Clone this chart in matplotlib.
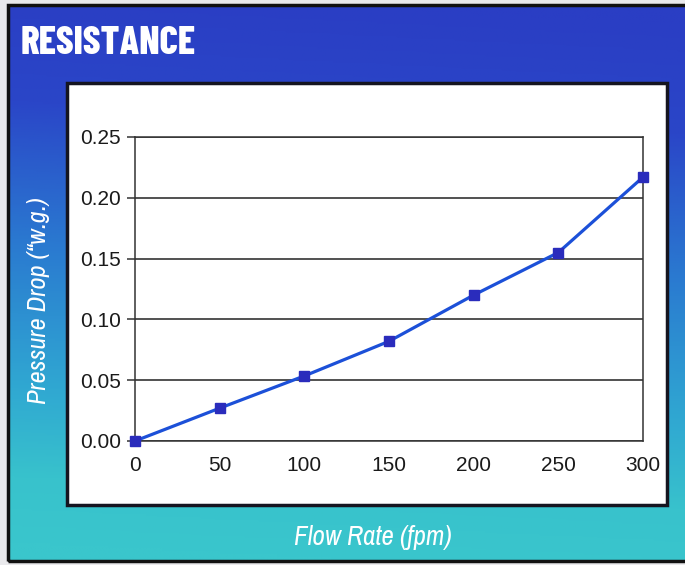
import numpy as np
import matplotlib
matplotlib.use("Agg")
import matplotlib.pyplot as plt
from matplotlib.colors import LinearSegmentedColormap
from matplotlib.patches import Rectangle

# data
flow_rate = [0, 50, 100, 150, 200, 250, 300]
pressure_drop = [0.0, 0.027, 0.0535, 0.082, 0.120, 0.155, 0.217]
y_ticks = [0.00, 0.05, 0.10, 0.15, 0.20, 0.25]
x_ticks = [0, 50, 100, 150, 200, 250, 300]

plt.rcParams["font.family"] = ["Liberation Sans", "DejaVu Sans"]

W, H = 685, 565
fig = plt.figure(figsize=(W / 100, H / 100), dpi=100)
fig.patch.set_facecolor("#e9e9ec")


def fx(px):
    return px / W


def fy(py):
    return 1 - py / H


# gradient background (blue at top, teal at bottom)
bg = fig.add_axes([fx(8), fy(561), fx(685 - 8), (561 - 5) / H])
bg.set_axis_off()
gx, gy = np.meshgrid(np.linspace(0, 1, 200), np.linspace(0, 1, 200))
t = np.clip(gy + 0.06 * (1 - gx) - 0.03, 0, 1)
cmap = LinearSegmentedColormap.from_list(
    "bg", [(0.0, "#2a3ec4"), (0.2, "#2a46c8"), (0.45, "#2a78d0"),
           (0.72, "#30a8d2"), (0.88, "#38c2cc"), (1.0, "#3ac6cc")])
bg.imshow(t, cmap=cmap, aspect="auto", extent=[0, 1, 0, 1], origin="upper")
bg.set_xlim(0, 1)
bg.set_ylim(0, 1)

# outer black frame
fig.patches.append(Rectangle((fx(8), fy(561)), fx(690 - 8), (561 - 5) / H,
                             transform=fig.transFigure, fill=False,
                             edgecolor="#111111", linewidth=2.5, zorder=5))

# white chart panel
fig.patches.append(Rectangle((fx(67), fy(505)), fx(667 - 67), (505 - 83) / H,
                             transform=fig.transFigure, facecolor="white",
                             edgecolor="#151520", linewidth=2.5, zorder=1))

fig.text(fx(21), fy(44), "RESISTANCE", color="white", fontsize=28,
         fontweight="heavy", va="center", ha="left",
         family=["Barlow Condensed", "DejaVu Sans"])

ax = fig.add_axes([fx(135), fy(441), fx(643 - 135), (441 - 137) / H])
ax.set_zorder(3)
ax.patch.set_alpha(0)
ax.plot(flow_rate, pressure_drop, color="#1c50d8", linewidth=2.3,
        marker="s", markersize=7.5, markerfacecolor="#2a2cbc",
        markeredgecolor="#2a2cbc", clip_on=False, zorder=4)

ax.set_xlim(0, 300)
ax.set_ylim(0, 0.25)
ax.set_xticks(x_ticks)
ax.set_yticks(y_ticks)
ax.set_yticklabels(["%.2f" % v for v in y_ticks])
ax.grid(axis="y", color="#222222", linewidth=1.1)
ax.set_axisbelow(True)
for s in ax.spines.values():
    s.set_color("#333333")
    s.set_linewidth(1.1)
ax.tick_params(axis="y", direction="out", length=6, width=1.1,
               color="#333333", pad=4, labelsize=15, labelcolor="#1a1a1a")
ax.tick_params(axis="x", length=0, pad=11, labelsize=15,
               labelcolor="#1a1a1a")

fig.text(fx(373), fy(537), "Flow Rate (fpm)", color="white", fontsize=19.5,
         style="italic", ha="center", va="center",
         family=["Archivo Narrow", "DejaVu Sans"])
fig.text(fx(39), fy(301), "Pressure Drop (\u201cw.g.)", color="white",
         fontsize=19, style="italic", ha="center", va="center", rotation=90,
         family=["Archivo Narrow", "DejaVu Sans"])

fig.savefig("out.png", dpi=100)
